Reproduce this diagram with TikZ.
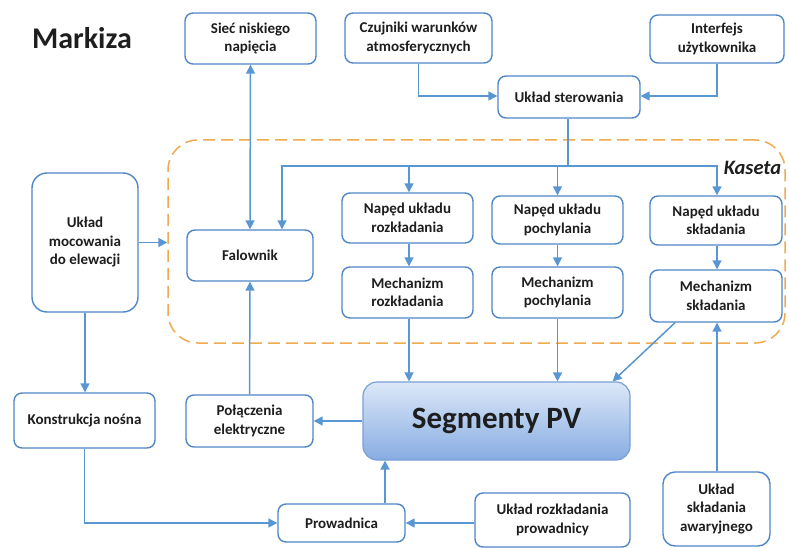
\documentclass[tikz,border=0pt]{standalone}
\usepackage{fontspec}
\setmainfont{Carlito}
\usetikzlibrary{arrows.meta,calc}
\definecolor{bord}{RGB}{79,134,198}
\definecolor{arrc}{RGB}{88,150,212}
\definecolor{kasc}{RGB}{242,170,80}
\definecolor{txt}{RGB}{30,30,30}
\definecolor{segtop}{RGB}{220,232,248}
\definecolor{segbot}{RGB}{135,172,226}
\definecolor{segbord}{RGB}{120,160,215}
\begin{document}
\begin{tikzpicture}[x=1pt,y=-1pt,
  box/.style={draw=bord,line width=1.4pt,rounded corners=8pt,fill=white,align=center,text=txt,
    font=\bfseries\fontsize{15}{18.5}\selectfont,inner sep=0pt},
  arr/.style={draw=arrc,line width=1.5pt,-{Triangle[length=9pt,width=9pt]}},
  plain/.style={draw=arrc,line width=1.5pt},
  biarr/.style={draw=arrc,line width=1.5pt,{Triangle[length=9pt,width=9pt]}-{Triangle[length=9pt,width=9pt]}}
]
\useasboundingbox[fill=white] (0,0) rectangle (789,548);
% Kaseta
\node[draw=kasc,line width=1.5pt,dash pattern=on 12pt off 6pt,rounded corners=30pt,
  minimum width=617,minimum height=203,inner sep=0pt] (kas) at (476.5,241.5) {};
\node[font=\bfseries\itshape\fontsize{20.5}{24}\selectfont,text=txt] (kasl) at (752.5,168) {Kaseta};
% title
\node[font=\bfseries\fontsize{30}{36}\selectfont,text=txt] (title) at (82,38) {Markiza};
% nodes
\node[box,minimum width=131,minimum height=51] (siec) at (250.5,38.5) {Sieć niskiego\\napięcia};
\node[box,minimum width=147,minimum height=50] (czuj) at (418.5,38) {Czujniki warunków\\atmosferycznych};
\node[box,minimum width=134,minimum height=48] (inter) at (717,39) {Interfejs\\użytkownika};
\node[box,minimum width=142,minimum height=42] (ster) at (569,97) {Układ sterowania};
\node[box,rounded corners=15pt,minimum width=106,minimum height=139] (moc) at (85,242.5) {Układ\\mocowania\\do elewacji};
\node[box,minimum width=126,minimum height=51] (fal) at (250,255.5) {Falownik};
\node[box,minimum width=131,minimum height=50] (rozN) at (407.5,218) {Napęd układu\\rozkładania};
\node[box,minimum width=131,minimum height=51] (rozM) at (407.5,292.5) {Mechanizm\\rozkładania};
\node[box,minimum width=131,minimum height=48] (pochN) at (557.5,220) {Napęd układu\\pochylania};
\node[box,minimum width=131,minimum height=51] (pochM) at (557.5,292.5) {Mechanizm\\pochylania};
\node[box,minimum width=132,minimum height=49] (sklN) at (716,220.5) {Napęd układu\\składania};
\node[box,minimum width=132,minimum height=52] (sklM) at (716,296) {Mechanizm\\składania};
\node[draw=segbord,line width=1.2pt,rounded corners=14pt,top color=segtop,bottom color=segbot,
  minimum width=267,minimum height=78,inner sep=0pt,text=txt,
  font=\bfseries\fontsize{31}{36}\selectfont] (seg) at (496.5,421) {Segmenty PV};
\node[box,minimum width=127,minimum height=52] (pol) at (249.5,421) {Połączenia\\elektryczne};
\node[box,minimum width=141,minimum height=55] (kon) at (84.5,420.5) {Konstrukcja nośna};
\node[box,minimum width=127,minimum height=38] (prow) at (341.5,523) {Prowadnica};
\node[box,minimum width=155,minimum height=54] (urp) at (552.5,520) {Układ rozkładania\\prowadnicy};
\node[box,rounded corners=12pt,minimum width=107,minimum height=74] (awar) at (716.5,509) {Układ\\składania\\awaryjnego};
% connectors
\draw[arr] (czuj.south) |- ([yshift=1pt]ster.west);
\draw[arr] (inter.south) |- ([yshift=1pt]ster.east);
\coordinate (bus) at (568,166);
\draw[plain] ([xshift=-1pt]ster.south) -- (bus);
\draw[arr] (bus) -| ([xshift=32pt]fal.north);
\draw[arr] (bus) -| ([xshift=1.5pt]rozN.north);
\draw[arr] (bus) -| (pochN.north);
\draw[arr] (bus) -| ([xshift=1pt]sklN.north);
\draw[biarr] (siec.south) -- (fal.north);
\draw[arr] (moc.east) -- (moc.east -| kas.west);
\draw[arr] ([xshift=1.5pt]rozN.south) -- ([xshift=1.5pt]rozM.north);
\draw[arr] (pochN.south) -- (pochM.north);
\draw[arr] ([xshift=1pt]sklN.south) -- ([xshift=1pt]sklM.north);
\draw[arr] ([xshift=1.5pt]rozM.south) -- ([xshift=1.5pt]rozM.south |- seg.north);
\draw[arr] (pochM.south) -- (pochM.south |- seg.north);
\draw[arr] ([xshift=-41pt]sklM.south) -- ([xshift=-18pt]seg.north east);
\draw[arr] ([xshift=0.5pt]awar.north) -- ([xshift=0.5pt]awar.north |- sklM.south);
\draw[arr] (seg.west) -- (pol.east);
\draw[arr] (pol.north) -- (fal.south);
\draw[arr] (moc.south) -- (moc.south |- kon.north);
\draw[arr] (kon.south) |- (prow.west);
\draw[arr] ([xshift=43.5pt]prow.north) -- ([xshift=43.5pt]prow.north |- seg.south);
\draw[arr] (urp.west |- prow.east) -- (prow.east);
\end{tikzpicture}
\end{document}
